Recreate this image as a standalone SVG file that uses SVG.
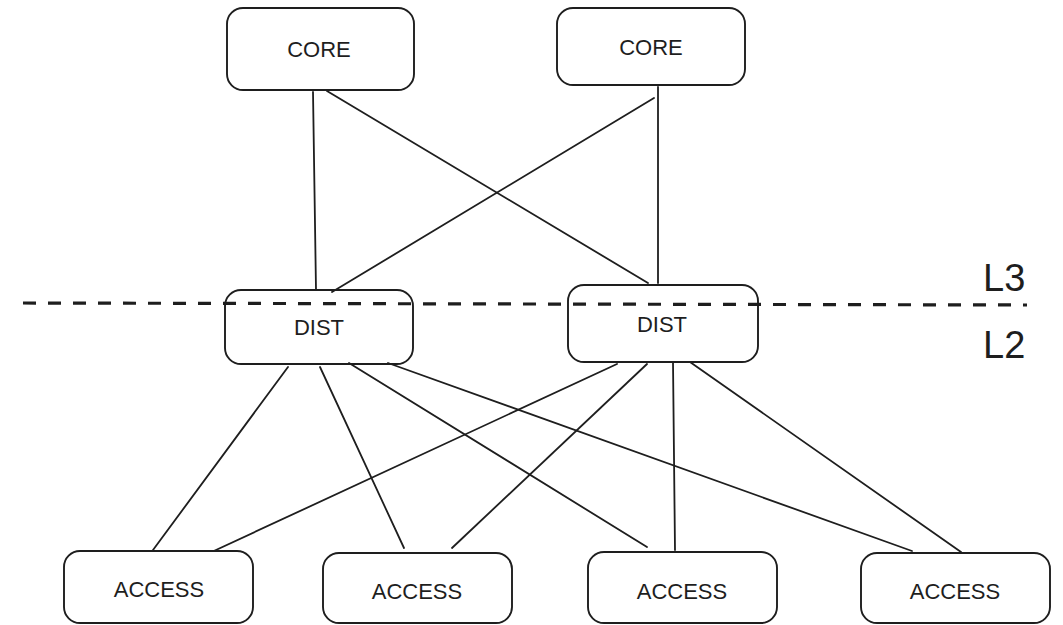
<svg xmlns="http://www.w3.org/2000/svg" width="1063" height="625" viewBox="0 0 1063 625">
  <style>
    .box { fill: #ffffff; stroke: #1e1e1e; stroke-width: 1.9; }
    .lbl { font-family: "Liberation Sans", Arial, sans-serif; font-size: 22px; fill: #1e1e1e; text-anchor: middle; }
    .layer { font-family: "Liberation Sans", Arial, sans-serif; font-size: 38px; fill: #1e1e1e; }
    .link { stroke: #1e1e1e; stroke-width: 1.8; fill: none; stroke-linecap: round; }
    .split { stroke: #1e1e1e; stroke-width: 3.2; stroke-dasharray: 13 12; fill: none; }
  </style>
  <rect width="1063" height="625" fill="#ffffff"/>

  <g id="connectors">
    <!-- core to distribution -->
    <line class="link" x1="313" y1="92" x2="316" y2="290"/>
    <line class="link" x1="327" y1="91" x2="648" y2="283"/>
    <line class="link" x1="654" y1="98" x2="332" y2="292"/>
    <line class="link" x1="658" y1="87" x2="658" y2="283"/>
    <!-- distribution 1 to access -->
    <line class="link" x1="288" y1="367" x2="153" y2="550"/>
    <line class="link" x1="320" y1="367" x2="404" y2="548"/>
    <line class="link" x1="349" y1="363" x2="647" y2="547"/>
    <line class="link" x1="388" y1="363" x2="912" y2="551"/>
    <!-- distribution 2 to access -->
    <line class="link" x1="617" y1="364" x2="203" y2="556"/>
    <line class="link" x1="647" y1="364" x2="452" y2="548"/>
    <line class="link" x1="673" y1="362" x2="675" y2="550"/>
    <line class="link" x1="690" y1="362" x2="961" y2="552"/>
  </g>

  <!-- layer boundary -->
  <g id="boundary">
    <line class="split" x1="23" y1="303" x2="1027" y2="305"/>
    <text class="layer" x="983" y="291">L3</text>
    <text class="layer" x="983" y="358">L2</text>
  </g>

  <g id="core1">
    <rect class="box" x="227" y="8" width="187" height="82" rx="16"/>
    <text class="lbl" x="319" y="57">CORE</text>
  </g>
  <g id="core2">
    <rect class="box" x="557" y="8" width="188" height="77" rx="16"/>
    <text class="lbl" x="651" y="55">CORE</text>
  </g>

  <g id="dist1">
    <rect class="box" x="225" y="290" width="188" height="74" rx="16" fill-opacity="0"/>
    <text class="lbl" x="319" y="335">DIST</text>
  </g>
  <g id="dist2">
    <rect class="box" x="568" y="285" width="190" height="77" rx="16" fill-opacity="0"/>
    <text class="lbl" x="662" y="332">DIST</text>
  </g>

  <g id="access1">
    <rect class="box" x="64" y="551" width="189" height="72" rx="16"/>
    <text class="lbl" x="159" y="597">ACCESS</text>
  </g>
  <g id="access2">
    <rect class="box" x="323" y="553" width="189" height="70" rx="16"/>
    <text class="lbl" x="417" y="599">ACCESS</text>
  </g>
  <g id="access3">
    <rect class="box" x="588" y="552" width="189" height="71" rx="16"/>
    <text class="lbl" x="682" y="599">ACCESS</text>
  </g>
  <g id="access4">
    <rect class="box" x="861" y="553" width="189" height="70" rx="16"/>
    <text class="lbl" x="955" y="599">ACCESS</text>
  </g>
</svg>
